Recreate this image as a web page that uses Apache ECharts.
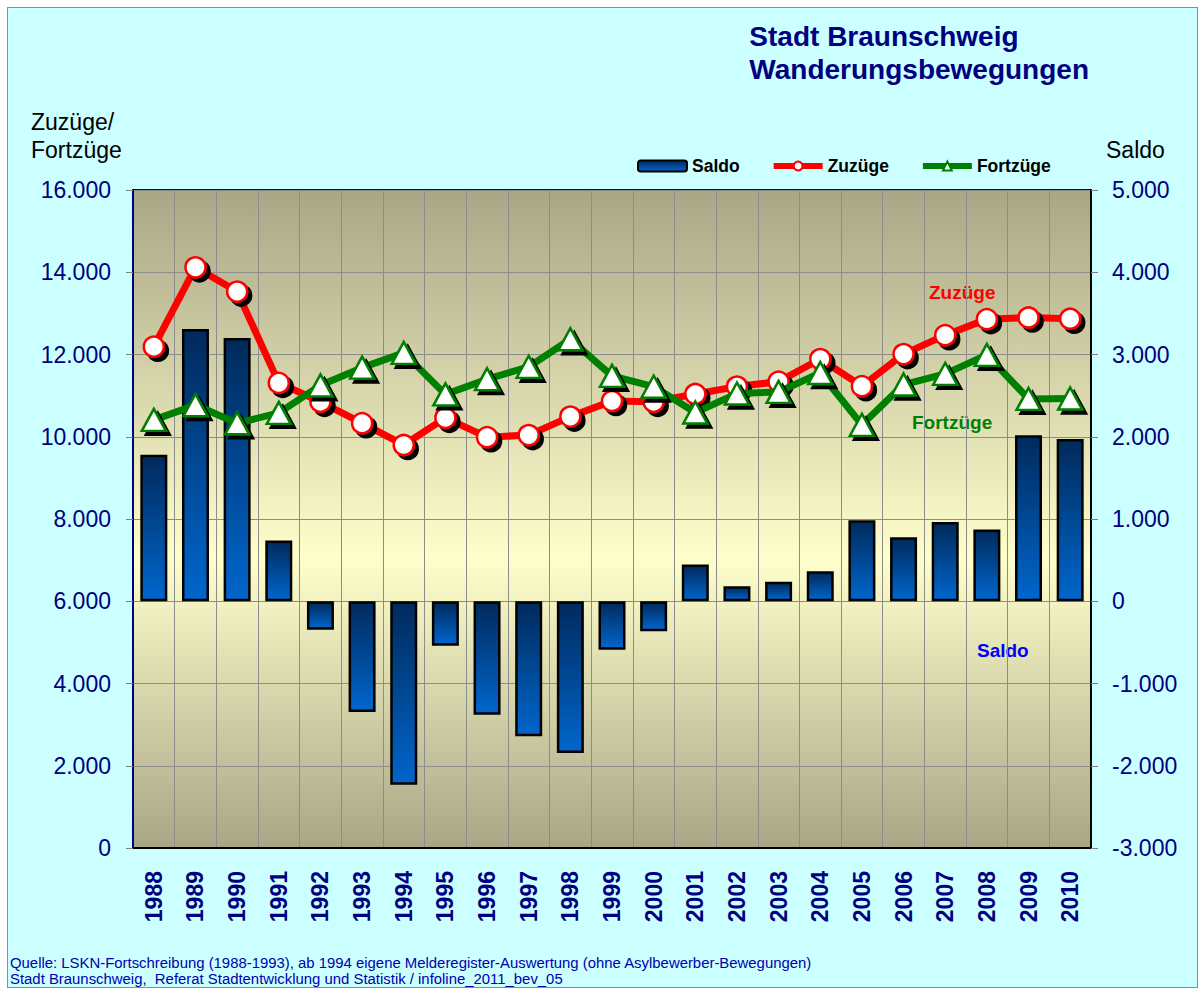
<!DOCTYPE html>
<html>
<head>
<meta charset="utf-8">
<title>Stadt Braunschweig – Wanderungsbewegungen</title>
<script src="https://cdn.jsdelivr.net/npm/echarts@6/dist/echarts.min.js"></script>
<style>
  html, body { margin: 0; padding: 0; background: #ffffff; }
  #frame {
    position: absolute; left: 7px; top: 7px;
    width: 1189px; height: 979px;
    background: #ccffff; border: 1px solid #8c8c8c;
  }
  #chart { position: absolute; left: 0; top: 0; width: 1204px; height: 994px; }
</style>
</head>
<body>
<div id="frame"></div>
<div id="chart"></div>
<script>
// Jahre
var years = ['1988', '1989', '1990', '1991', '1992', '1993', '1994', '1995', '1996', '1997', '1998', '1999',
             '2000', '2001', '2002', '2003', '2004', '2005', '2006', '2007', '2008', '2009', '2010'];

// Zuzüge / Fortzüge (linke Achse)
var zuzuege = [12190, 14120, 13530, 11310, 10850, 10330, 9800, 10460, 9990, 10040, 10490, 10870,
               10850, 11040, 11220, 11340, 11890, 11230, 12010, 12470, 12860, 12900, 12870];
var fortzuege = [10410, 10770, 10330, 10580, 11250, 11680, 12040, 11030, 11400, 11700, 12370, 11480,
                 11220, 10590, 11050, 11090, 11550, 10290, 11270, 11530, 11990, 10920, 10930];

// Saldo (rechte Achse)
var saldo = [1780, 3310, 3200, 740, -345, -1345, -2230, -540, -1380, -1640, -1845, -590,
             -365, 446, 183, 236, 365, 985, 778, 965, 872, 2018, 1974];

// Achsenbereiche [min, max, interval]
var leftAxis = [0, 16000, 2000];
var rightAxis = [-3000, 5000, 1000];

function fmt(v) {
    return String(v).replace(/\B(?=(\d{3})+(?!\d))/g, '.');
}

var chartDom = document.getElementById('chart');
var myChart = echarts.init(chartDom, null, { renderer: 'svg' });

var navy = '#000080';
var font = 'Liberation Sans, Arial, sans-serif';
var markerShadow = {
    shadowColor: '#000000',
    shadowBlur: 0,
    shadowOffsetX: 4,
    shadowOffsetY: 4
};

var option = {
    backgroundColor: 'transparent',
    animation: false,
    textStyle: { fontFamily: font },
    legend: {
        data: ['Saldo', 'Zuzüge', 'Fortzüge'],
        left: 632,
        top: 152,
        itemWidth: 49,
        itemHeight: 11,
        itemGap: 31,
        lineStyle: { width: 6 },
        textStyle: { color: '#000', fontSize: 17.5, fontWeight: 'bold' }
    },
    grid: {
        left: 133,
        right: 113,
        top: 190,
        bottom: 146,
        show: true,
        borderColor: navy,
        borderWidth: 2,
        backgroundColor: new echarts.graphic.LinearGradient(0, 0, 0, 1, [
            { offset: 0, color: '#a9a686' },
            { offset: 0.56, color: '#ffffcc' },
            { offset: 1, color: '#a9a686' }
        ])
    },
    xAxis: {
        type: 'category',
        data: years,
        axisLine: { lineStyle: { color: '#000', width: 2 } },
        axisTick: { length: 7, lineStyle: { color: '#808080' } },
        splitLine: { show: true, lineStyle: { color: '#8c8c8c', width: 1 } },
        axisLabel: {
            rotate: 90,
            margin: 23,
            color: navy,
            fontSize: 23,
            fontWeight: 'bold',
            interval: 0
        }
    },
    yAxis: [
        {
            type: 'value',
            min: leftAxis[0],
            max: leftAxis[1],
            interval: leftAxis[2],
            axisLine: { show: true, lineStyle: { color: navy, width: 2 } },
            axisTick: { show: true, length: 7, lineStyle: { color: '#808080' } },
            splitLine: { show: true, lineStyle: { color: '#8c8c8c', width: 1 } },
            axisLabel: { formatter: fmt, color: navy, fontSize: 23, margin: 22 }
        },
        {
            type: 'value',
            min: rightAxis[0],
            max: rightAxis[1],
            interval: rightAxis[2],
            axisLine: { show: true, lineStyle: { color: '#000', width: 2 } },
            axisTick: { show: true, length: 7, lineStyle: { color: '#808080' } },
            splitLine: { show: false },
            axisLabel: { formatter: fmt, color: navy, fontSize: 23, margin: 21 }
        }
    ],
    series: [
        {
            name: 'Saldo',
            type: 'bar',
            yAxisIndex: 1,
            data: saldo,
            barWidth: 27,
            itemStyle: {
                color: new echarts.graphic.LinearGradient(0, 0, 0, 1, [
                    { offset: 0, color: '#002a5c' },
                    { offset: 1, color: '#0066cc' }
                ]),
                borderColor: '#000',
                borderWidth: 2.5
            }
        },
        {
            name: 'Zuzüge',
            type: 'line',
            data: zuzuege,
            symbol: 'circle',
            symbolSize: 20,
            lineStyle: { color: '#ff0000', width: 7 },
            itemStyle: Object.assign({ color: '#ffffff', borderColor: '#ff0000', borderWidth: 2.5 }, markerShadow),
            z: 3
        },
        {
            name: 'Fortzüge',
            type: 'line',
            data: fortzuege,
            symbol: 'triangle',
            symbolSize: [24, 22],
            lineStyle: { color: '#008000', width: 7 },
            itemStyle: Object.assign({ color: '#ffffff', borderColor: '#008000', borderWidth: 2.5 }, markerShadow),
            z: 4
        }
    ],
    graphic: [
        {
            type: 'text', right: 115, top: 20,
            style: {
                text: 'Stadt Braunschweig\nWanderungsbewegungen',
                align: 'right', fill: navy, fontSize: 28, fontWeight: 'bold', lineHeight: 33,
                fontFamily: font
            }
        },
        {
            type: 'text', left: 31, top: 108,
            style: { text: 'Zuzüge/\nFortzüge', fill: '#000', fontSize: 23, lineHeight: 28, fontFamily: font }
        },
        {
            type: 'text', left: 1106, top: 138,
            style: { text: 'Saldo', fill: '#000', fontSize: 23, fontFamily: font }
        },
        {
            type: 'text', left: 929, top: 283,
            style: { text: 'Zuzüge', fill: '#ff0000', fontSize: 19, fontWeight: 'bold', fontFamily: font }
        },
        {
            type: 'text', left: 912, top: 413,
            style: { text: 'Fortzüge', fill: '#008000', fontSize: 19, fontWeight: 'bold', fontFamily: font }
        },
        {
            type: 'text', left: 977, top: 641,
            style: { text: 'Saldo', fill: '#0000ff', fontSize: 19, fontWeight: 'bold', fontFamily: font }
        },
        {
            type: 'text', left: 10, top: 955,
            style: {
                text: 'Quelle: LSKN-Fortschreibung (1988-1993), ab 1994 eigene Melderegister-Auswertung (ohne Asylbewerber-Bewegungen)\n' +
                      'Stadt Braunschweig,  Referat Stadtentwicklung und Statistik / infoline_2011_bev_05',
                fill: '#0000b0', fontSize: 14.9, lineHeight: 16, fontFamily: font
            }
        }
    ]
};

myChart.setOption(option);
window.addEventListener('resize', function () {
    myChart.resize();
});
</script>
</body>
</html>
